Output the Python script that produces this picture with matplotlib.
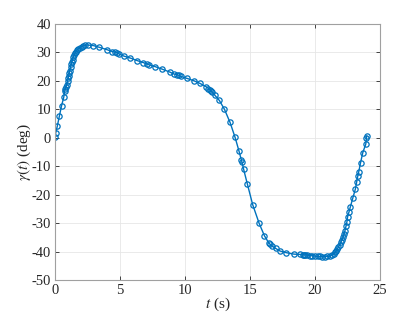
import numpy as np
import matplotlib
matplotlib.use("Agg")
import matplotlib.pyplot as plt

plt.rcParams['font.family'] = 'Liberation Serif'
plt.rcParams['mathtext.fontset'] = 'stix'
plt.rcParams['axes.unicode_minus'] = False
plt.rcParams['font.size'] = 10

# time (s) and angle (deg)
t = [0, 0.05, 0.18, 0.33, 0.5, 0.67, 0.74, 0.8, 0.86, 0.9, 0.97, 1.02, 1.05, 1.1,
     1.13, 1.2, 1.25, 1.3, 1.35, 1.4, 1.47, 1.54, 1.62, 1.7, 1.8, 1.92, 2.05, 2.18,
     2.3, 2.5, 2.95, 3.4, 3.97, 4.4, 4.6, 4.75, 4.95, 5.3, 5.8, 6.33, 6.8, 7.1, 7.25,
     7.7, 8.25, 8.82, 9.15, 9.35, 9.5, 9.65, 10.13, 10.7, 11.15, 11.6, 11.8, 11.9,
     12.0, 12.08, 12.28, 12.64, 13.03, 13.46, 13.85, 14.15, 14.33, 14.38, 14.5, 14.8,
     15.2, 15.7, 16.1, 16.43, 16.55, 16.67, 16.97, 17.3, 17.8, 18.38, 18.85, 19.05,
     19.15, 19.25, 19.4, 19.6, 19.8, 20.0, 20.2, 20.4, 20.55, 20.77, 20.95, 21.15,
     21.33, 21.45, 21.54, 21.62, 21.7, 21.8, 21.9, 21.98, 22.08, 22.15, 22.23, 22.3,
     22.38, 22.45, 22.5, 22.6, 22.7, 22.9, 23.1, 23.2, 23.28, 23.36, 23.5, 23.67,
     23.9, 23.95, 23.97]
gamma = [0.2, 1.6, 4.2, 7.5, 11.2, 14.2, 16.4, 17.3, 18.0, 18.6, 20.0, 21.0, 21.7, 22.8,
         23.6, 25.0, 25.8, 26.7, 27.5, 28.3, 29.0, 29.7, 30.3, 30.9, 31.3, 31.7, 32.0, 32.3,
         32.5, 32.6, 32.4, 31.8, 31.0, 30.3, 30.1, 29.9, 29.4, 28.7, 28.0, 27.1, 26.4, 25.9, 25.6,
         25.0, 24.1, 23.1, 22.4, 22.2, 22.0, 21.6, 20.9, 20.0, 19.1, 18.0, 17.3, 16.9,
         16.5, 16.1, 15.0, 13.1, 10.0, 5.4, 0.1, -4.7, -7.8, -8.6, -11.0, -16.4,
         -23.5, -30.1, -34.4, -36.9, -37.5, -38.0, -38.9, -39.8, -40.4, -40.9, -41.0, -41.1,
         -41.1, -41.2, -41.2, -41.4, -41.5, -41.6, -41.7, -41.7, -41.8, -41.8, -41.7, -41.6,
         -41.1, -40.7, -40.3, -39.8, -39.2, -38.4, -37.6, -36.8, -35.8, -35.0, -33.8, -32.6,
         -31.0, -29.5, -27.8, -26.2, -24.5, -21.2, -18.0, -15.5, -13.5, -11.9, -8.7, -5.2,
         -2.2, 0.0, 0.5]

x_ticks = [0, 5, 10, 15, 20, 25]
y_ticks = [-50, -40, -30, -20, -10, 0, 10, 20, 30, 40]

fig = plt.figure(figsize=(4.2, 3.15), dpi=100)
ax = fig.add_axes([0.131, 0.111, 0.774, 0.813])

ax.plot(t, gamma, '-o', color='#0072BD', linewidth=1.0, markersize=3.8,
        markerfacecolor='none', markeredgewidth=0.9)

ax.set_xlim(0, 25)
ax.set_ylim(-50, 40)
ax.set_xticks(x_ticks)
ax.set_yticks(y_ticks)
ax.grid(True, color='#e6e6e6', linewidth=0.6)
ax.set_axisbelow(True)
ax.tick_params(direction='in', top=True, right=True, length=3, width=0.6,
               color='#262626', labelsize=10.5, labelcolor='#262626', pad=3)
for s in ax.spines.values():
    s.set_color('#a0a0a0')
    s.set_linewidth(0.8)

ax.set_xlabel(r'$t$ (s)', fontsize=11, color='#262626', labelpad=-1)
ax.set_ylabel(r'$\gamma(t)$ (deg)', fontsize=11, color='#262626', labelpad=-1)

fig.savefig('out.png', dpi=100)
